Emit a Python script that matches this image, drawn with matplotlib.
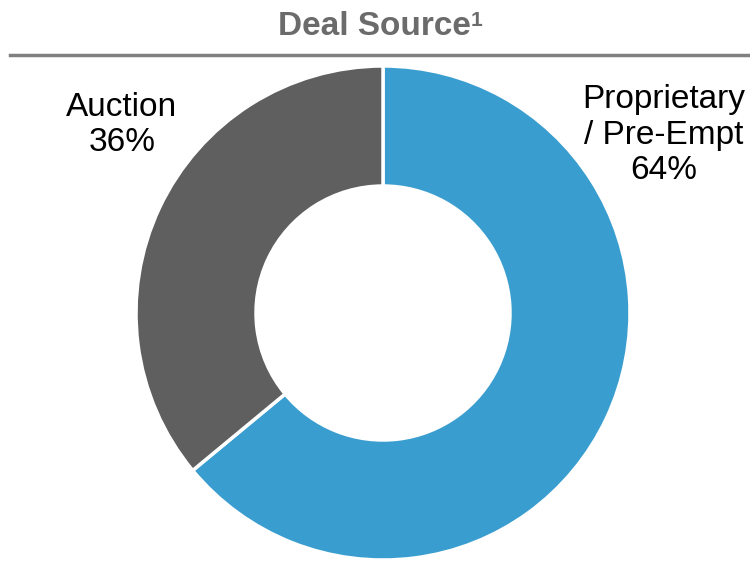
import matplotlib.pyplot as plt
from matplotlib.lines import Line2D

plt.rcParams['font.family'] = ['Liberation Sans', 'DejaVu Sans']

# deal source split (percent)
labels = ['Proprietary\n/ Pre-Empt', 'Auction']
shares = [64, 36]
colors = ['#3A9DCF', '#5F5F5F']

W, H = 750, 561
fig = plt.figure(figsize=(W / 100, H / 100), dpi=100)
ax = fig.add_axes([0, 0, 1, 1])

cx, cy, r = 383, H - 313, 247
wedges, _ = ax.pie(shares, colors=colors, startangle=90, counterclock=False,
                   center=(cx, cy), radius=r, frame=True,
                   wedgeprops=dict(width=r - 127, edgecolor='white', linewidth=2.5))
ax.set_xlim(0, W)
ax.set_ylim(0, H)
ax.set_aspect('equal')
ax.axis('off')

# title with rule underneath
ax.text(374, H - 26, 'Deal Source', ha='center', va='center', fontsize=24,
        fontweight='bold', color='#6B6B6B')
ax.text(471, H - 20, '1', ha='left', va='center', fontsize=15,
        fontweight='bold', color='#6B6B6B')
ax.add_line(Line2D([10, 748], [H - 55, H - 55], color='#808080', linewidth=2.5))

ax.text(664, H - 135, f'{labels[0]}\n{shares[0]}%', ha='center', va='center',
        fontsize=24, color='black', linespacing=1.2)
ax.text(122, H - 125, f'{labels[1]}\n{shares[1]}%', ha='center', va='center',
        fontsize=24, color='black', linespacing=1.2)

fig.savefig('out.png', dpi=100)
